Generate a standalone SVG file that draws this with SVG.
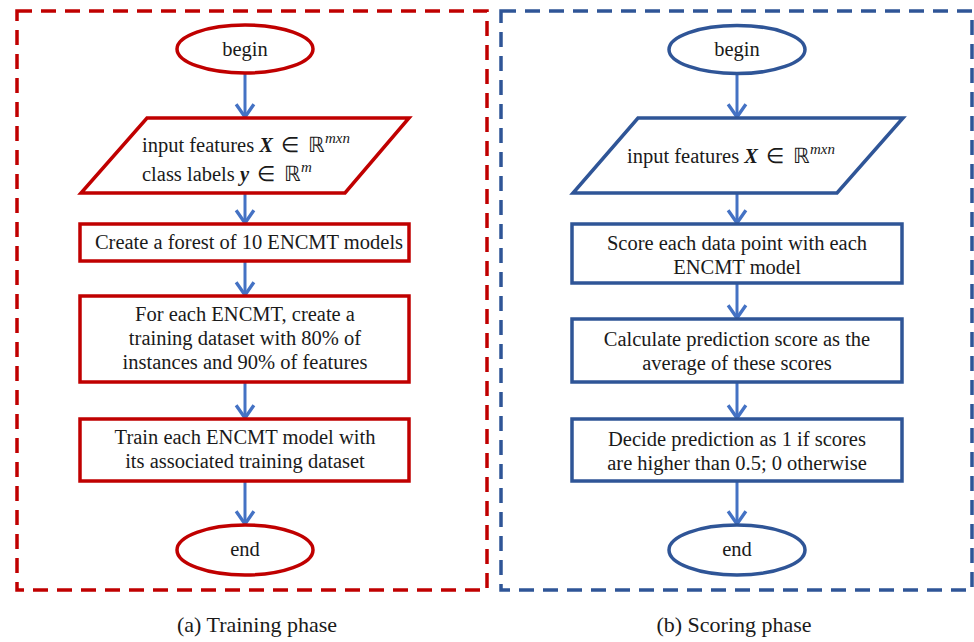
<svg xmlns="http://www.w3.org/2000/svg" width="974" height="642" viewBox="0 0 974 642">
<defs>
<marker id="ah" markerUnits="userSpaceOnUse" markerWidth="20" markerHeight="20" viewBox="0 0 14 18" refX="12.5" refY="9" orient="auto" overflow="visible">
<path d="M1,1 L12.5,9 L1,17" fill="none" stroke="#4472C4" stroke-width="3" stroke-linejoin="miter"/>
</marker>
</defs>
<style>
.t{font-family:"Liberation Serif","Times New Roman",serif;font-size:20.5px;fill:#1a1a1a}
.cap{font-family:"Liberation Serif","Times New Roman",serif;font-size:22px;fill:#1a1a1a;text-anchor:middle}
.m{text-anchor:middle}
.red{fill:#fff;stroke:#C00000;stroke-width:3.5}
.blue{fill:#fff;stroke:#2F5597;stroke-width:3.5}
.fr{fill:none;stroke:#C00000;stroke-width:3.5;stroke-dasharray:15 9}
.fb{fill:none;stroke:#2F5597;stroke-width:3.5;stroke-dasharray:15 9}
.c line{stroke:#4472C4;stroke-width:3;marker-end:url(#ah)}
.bx{font-weight:bold;font-style:italic}
.it{font-style:italic}
</style>
<rect id="frameA" class="fr" x="17" y="11" width="470" height="579"/>
<rect id="frameB" class="fb" x="501" y="11" width="471" height="579"/>

<g class="c" id="connectors">
<line x1="245" y1="73" x2="245" y2="117"/>
<line x1="245" y1="193" x2="245" y2="223"/>
<line x1="245" y1="261" x2="245" y2="295"/>
<line x1="245" y1="382" x2="245" y2="418"/>
<line x1="245" y1="481" x2="245" y2="524"/>
<line x1="737" y1="73" x2="737" y2="117"/>
<line x1="737" y1="193" x2="737" y2="223"/>
<line x1="737" y1="283" x2="737" y2="318"/>
<line x1="737" y1="382" x2="737" y2="418"/>
<line x1="737" y1="481" x2="737" y2="524"/>
</g>

<g id="a_begin"><ellipse class="red" cx="245" cy="49" rx="68" ry="24"/><text class="t m" x="245" y="56">begin</text></g>
<g id="a_input"><polygon class="red" points="147,118 409,118 345,193 81,193"/>
<text class="t" x="142" y="152">input features <tspan class="bx">X</tspan><tspan dx="8">∈</tspan><tspan dx="9">ℝ</tspan><tspan class="it" font-size="15" dy="-9">mxn</tspan></text>
<text class="t" x="142" y="181">class labels <tspan class="bx">y</tspan><tspan dx="8">∈</tspan><tspan dx="9">ℝ</tspan><tspan class="it" font-size="15" dy="-9">m</tspan></text></g>
<g id="a_forest"><rect class="red" x="80" y="224" width="329" height="37"/><text class="t m" x="249" y="249">Create a forest of 10 ENCMT models</text></g>
<g id="a_each"><rect class="red" x="80" y="296" width="329" height="86"/>
<text class="t m" x="245" y="321">For each ENCMT, create a</text>
<text class="t m" x="245" y="345">training dataset with 80% of</text>
<text class="t m" x="245" y="369">instances and 90% of features</text></g>
<g id="a_train"><rect class="red" x="80" y="419" width="329" height="62"/>
<text class="t m" x="245" y="444">Train each ENCMT model with</text>
<text class="t m" x="245" y="468">its associated training dataset</text></g>
<g id="a_end"><ellipse class="red" cx="245" cy="550" rx="68" ry="25"/><text class="t m" x="245" y="556">end</text></g>

<g id="b_begin"><ellipse class="blue" cx="737" cy="49.5" rx="68" ry="24"/><text class="t m" x="737" y="56">begin</text></g>
<g id="b_input"><polygon class="blue" points="638,118 903,118 837,193 573,193"/>
<text class="t" x="627" y="163">input features <tspan class="bx">X</tspan><tspan dx="8">∈</tspan><tspan dx="9">ℝ</tspan><tspan class="it" font-size="15" dy="-9">mxn</tspan></text></g>
<g id="b_score"><rect class="blue" x="572" y="224" width="330" height="59"/>
<text class="t m" x="737" y="250">Score each data point with each</text>
<text class="t m" x="737" y="274">ENCMT model</text></g>
<g id="b_calc"><rect class="blue" x="572" y="319" width="330" height="63"/>
<text class="t m" x="737" y="346">Calculate prediction score as the</text>
<text class="t m" x="737" y="370">average of these scores</text></g>
<g id="b_decide"><rect class="blue" x="572" y="419" width="330" height="62"/>
<text class="t m" x="737" y="446">Decide prediction as 1 if scores</text>
<text class="t m" x="737" y="470">are higher than 0.5; 0 otherwise</text></g>
<g id="b_end"><ellipse class="blue" cx="737" cy="550" rx="68" ry="25"/><text class="t m" x="737" y="556">end</text></g>

<text class="cap" x="257" y="632">(a) Training phase</text>
<text class="cap" x="734" y="632">(b) Scoring phase</text>
</svg>
